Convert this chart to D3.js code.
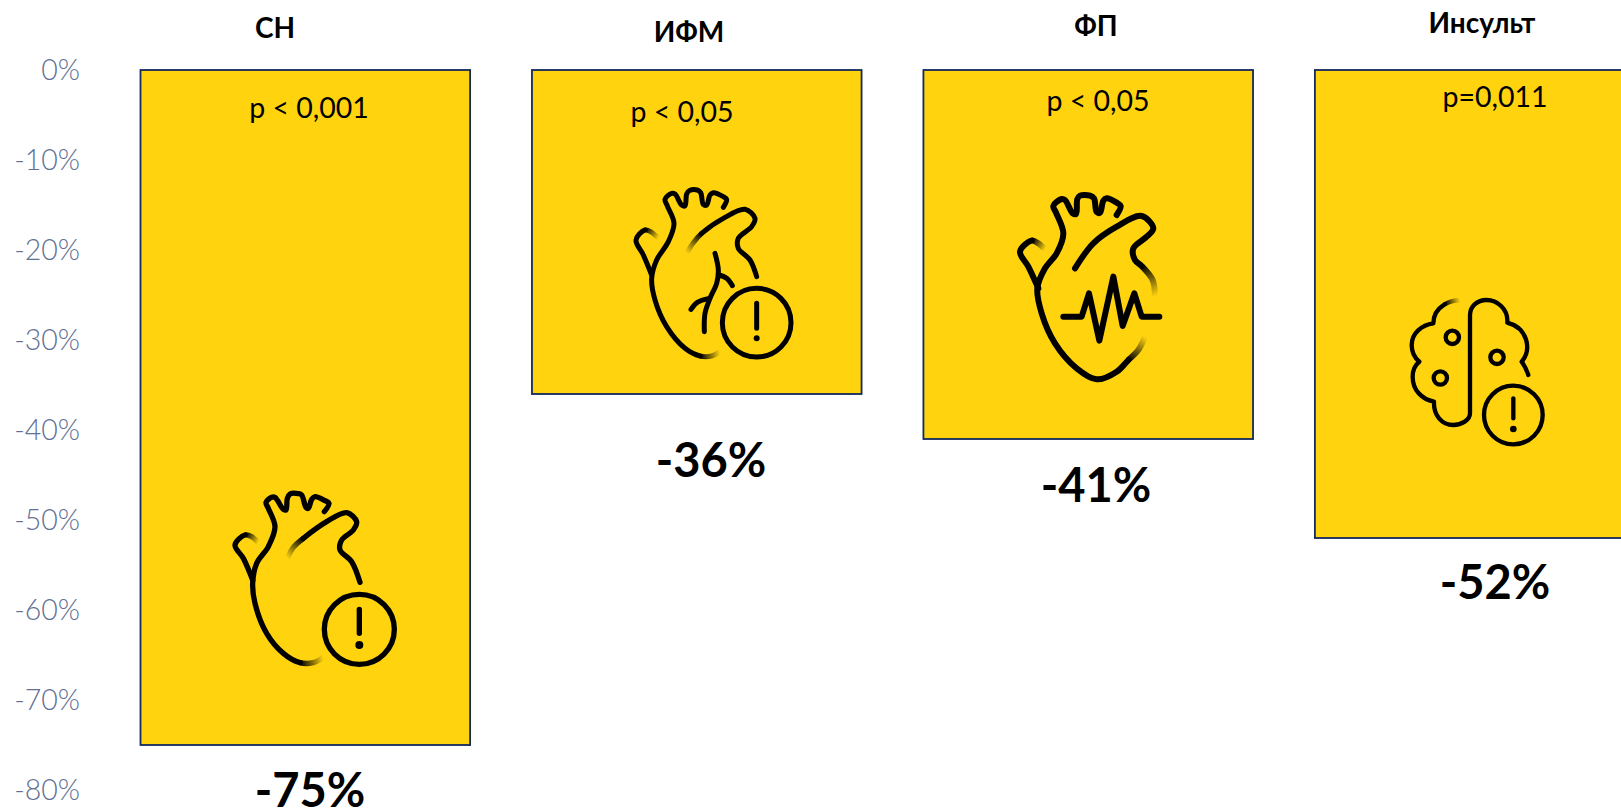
<!DOCTYPE html>
<html>
<head>
<meta charset="utf-8">
<script src="https://cdn.jsdelivr.net/npm/d3@7"></script>
<style>
    html, body { margin:0; padding:0; background:#fff; overflow:hidden; }
    svg { display:block; }
    text { font-family:Lato, "Open Sans", sans-serif; }
</style>
</head>
<body>
<div class="chart-container"></div>
<script>
//Data
const categories = ['СН', 'ИФМ', 'ФП', 'Инсульт'];
const values = [-75, -36, -41, -52];
const pLabels = ['p < 0,001', 'p < 0,05', 'p < 0,05', 'p=0,011'];
const yTicks = [0, -10, -20, -30, -40, -50, -60, -70, -80];

//Hand placed labels, the source slide has them slightly out of line
const titlePos = [[275, 38], [689, 42], [1096, 36], [1482, 33]];
const pPos = [[309, 118], [682, 122], [1098, 111], [1495, 107]];
const valuePos = [[310, 807], [711, 477], [1096, 502], [1495, 599]];

//Icons, drawn in 3x crop coordinates. The fades go from the first point (invisible) to point n
const curve = d3.line().curve(d3.curveCatmullRom.alpha(0.5));
const straight = d3.line();

const iconHeart1 = {
    origin:[200, 470], width:16,
    lines:[],
    fades:[
        {n:2, pts:[[370,562],[340,578],[300,578],[250,550],[200,490],[165,400],[158,340],[170,280],[205,230],[225,170],[205,115],[198,97],[215,82],[225,82],[250,118],[258,120],[262,85],[270,72],[295,71],[305,75],[318,112],[325,115],[335,88],[345,80],[375,92],[387,100],[373,125]]},
        {n:2, pts:[[175,218],[155,200],[135,195],[105,225],[130,265],[158,330]]},
        {n:2, pts:[[262,265],[280,232],[310,205],[380,155],[440,128],[470,155],[460,180],[425,210],[420,240],[455,275],[480,337]]}
    ],
    alert:{x:478, y:478, r:105, top:418, bottom:490, dot:525, dotR:12}
};
const iconHeart2 = {
    origin:[610, 170], width:15,
    lines:[
        [[315,250],[325,300],[320,340],[300,385],[285,430],[283,485]],
        [[328,315],[350,325],[367,347]],
        [[243,418],[262,397],[298,385]]
    ],
    fades:[
        {n:2, pts:[[330,545],[305,558],[270,558],[225,535],[170,470],[135,390],[125,325],[140,270],[175,215],[192,160],[172,108],[165,88],[185,70],[195,72],[215,105],[225,108],[230,72],[238,62],[262,60],[272,68],[280,103],[290,105],[300,75],[310,68],[340,80],[350,88],[340,112]]},
        {n:2, pts:[[145,205],[125,187],[105,180],[78,210],[100,255],[125,315]]},
        {n:2, pts:[[230,250],[250,218],[275,190],[340,145],[405,118],[435,145],[425,170],[385,205],[385,235],[420,270],[440,320]]}
    ],
    alert:{x:440, y:458, r:103, top:400, bottom:475, dot:505, dotR:9}
};
const iconHeart3 = {
    origin:[1000, 180], width:18,
    lines:[],
    fades:[
        {n:2, pts:[[435,470],[415,510],[385,540],[350,575],[290,598],[230,565],[165,490],[125,400],[112,325],[135,265],[170,220],[190,160],[168,98],[160,78],[185,57],[195,60],[218,100],[228,102],[232,57],[240,47],[270,47],[282,55],[290,96],[300,98],[310,62],[320,55],[350,68],[362,78],[350,105]]},
        {n:2, pts:[[135,208],[115,190],[95,182],[60,215],[85,260],[115,325]]},
        {n:2, pts:[[465,350],[458,300],[425,258],[405,240],[400,205],[440,170],[460,145],[425,108],[350,140],[280,190],[225,265]]}
    ],
    straight:[
        [[190,410],[245,410],[267,340],[298,482],[340,290],[368,438],[403,340],[425,410],[478,410]]
    ]
};
const iconBrain = {
    origin:[1390, 280], width:13,
    outline:'M210,60 C160,62 130,95 130,130 C95,135 65,160 65,195 C65,215 72,232 88,245 C75,255 68,270 68,290 C68,330 95,358 132,365 C130,405 155,435 190,435 C215,435 240,420 240,400 L240,105 C240,80 260,60 290,60 C320,60 355,85 352,128 C415,145 425,210 395,245 Q408,262 415,285',
    fadeTo:[165, 70],
    fadeLen:50,
    rings:[[187,172,20],[151,294,20],[321,232,20]],
    alert:{x:370, y:405, r:88, top:355, bottom:415, dot:447, dotR:10}
};
const icons = [iconHeart1, iconHeart2, iconHeart3, iconBrain];

//Canvas
const svg_width = 1621;
const svg_height = 810;
const svg = d3.select('.chart-container').append('svg')
    .attr('width', svg_width).attr('height', svg_height);
const defs = svg.append('defs');

//Scale
const xScale = d3.scaleBand().domain(categories)
    .range([140.5, 1644.5])
    .paddingInner(0.158)
    .paddingOuter(0);
const yScale = d3.scaleLinear().domain([0, -80]).range([70, 790]);

//Axis
const yAxis = d3.axisLeft(yScale).tickValues(yTicks).tickFormat(d => d + '%').tickSize(0).tickPadding(0);
const yAxisDraw = svg.append('g').attr('class', 'y axis').attr('transform', 'translate(80,0)').call(yAxis);
yAxisDraw.select('.domain').remove();
yAxisDraw.selectAll('text')
    .style('font-family', 'Lato, sans-serif')
    .style('font-size', '28.5px')
    .style('font-weight', 300)
    .style('fill', '#5F7194');

//Bars
svg.selectAll('.bar').data(categories).enter()
    .append('rect').attr('class', 'bar')
    .attr('x', d => xScale(d))
    .attr('y', yScale(0))
    .attr('width', xScale.bandwidth())
    .attr('height', (d, i) => yScale(values[i]) - yScale(0))
    .style('fill', '#FFD40F')
    .style('stroke', '#12295C')
    .style('stroke-width', 1.8);

//Labels
svg.selectAll('.title').data(categories).enter()
    .append('text').attr('class', 'title')
    .attr('x', (d, i) => titlePos[i][0]).attr('y', (d, i) => titlePos[i][1])
    .attr('text-anchor', 'middle')
    .style('font-size', '28px').style('font-weight', 700)
    .text(d => d);

svg.selectAll('.p-label').data(pLabels).enter()
    .append('text').attr('class', 'p-label')
    .attr('x', (d, i) => pPos[i][0]).attr('y', (d, i) => pPos[i][1])
    .attr('text-anchor', 'middle')
    .style('font-size', '28.5px')
    .text(d => d);

svg.selectAll('.value-label').data(values).enter()
    .append('text').attr('class', 'value-label')
    .attr('x', (d, i) => valuePos[i][0]).attr('y', (d, i) => valuePos[i][1])
    .attr('text-anchor', 'middle')
    .style('font-size', '47px').style('font-weight', 700)
    .text(d => d + '%');

//Icons
function pathLength(g, d){
    const p = g.append('path').attr('d', d);
    const len = p.node().getTotalLength();
    p.remove();
    return len;
}

//one outline, first part with a gradient stroke and the rest solid
function drawFaded(g, id, d, from, to, fadeLen){
    const total = pathLength(g, d);
    const grad = defs.append('linearGradient').attr('id', id)
        .attr('gradientUnits', 'userSpaceOnUse')
        .attr('x1', from[0]).attr('y1', from[1])
        .attr('x2', to[0]).attr('y2', to[1]);
    grad.append('stop').attr('offset', 0).attr('stop-color', '#000').attr('stop-opacity', 0);
    grad.append('stop').attr('offset', 1).attr('stop-color', '#000').attr('stop-opacity', 1);
    g.append('path').attr('d', d)
        .attr('stroke', `url(#${id})`).attr('stroke-linecap', 'butt')
        .attr('stroke-dasharray', `${fadeLen} ${total}`);
    g.append('path').attr('d', d)
        .attr('stroke-dasharray', `${total - fadeLen} ${total + fadeLen}`)
        .attr('stroke-dashoffset', -fadeLen);
}

icons.forEach((icon, i) => {
    const g = svg.append('g')
        .attr('transform', `translate(${icon.origin[0]},${icon.origin[1]}) scale(${1 / 3})`)
        .attr('fill', 'none').attr('stroke', '#000')
        .attr('stroke-width', icon.width)
        .attr('stroke-linecap', 'round').attr('stroke-linejoin', 'round');

    (icon.lines || []).forEach(pts => g.append('path').attr('d', curve(pts)));
    (icon.straight || []).forEach(pts => g.append('path').attr('d', straight(pts)));

    (icon.fades || []).forEach((f, j) => {
        const fadeLen = pathLength(g, curve(f.pts.slice(0, f.n + 1)));
        drawFaded(g, `fade-${i}-${j}`, curve(f.pts), f.pts[0], f.pts[f.n], fadeLen);
    });

    if (icon.outline) {
        drawFaded(g, `fade-${i}-outline`, icon.outline, [210, 60], icon.fadeTo, icon.fadeLen);
    }

    (icon.rings || []).forEach(r => g.append('circle').attr('cx', r[0]).attr('cy', r[1]).attr('r', r[2]));

    if (icon.alert) {
        const a = icon.alert;
        g.append('circle').attr('cx', a.x).attr('cy', a.y).attr('r', a.r);
        g.append('line').attr('x1', a.x).attr('x2', a.x).attr('y1', a.top).attr('y2', a.bottom);
        g.append('circle').attr('cx', a.x).attr('cy', a.dot).attr('r', a.dotR).attr('fill', '#000').attr('stroke', 'none');
    }
});
</script>
</body>
</html>
